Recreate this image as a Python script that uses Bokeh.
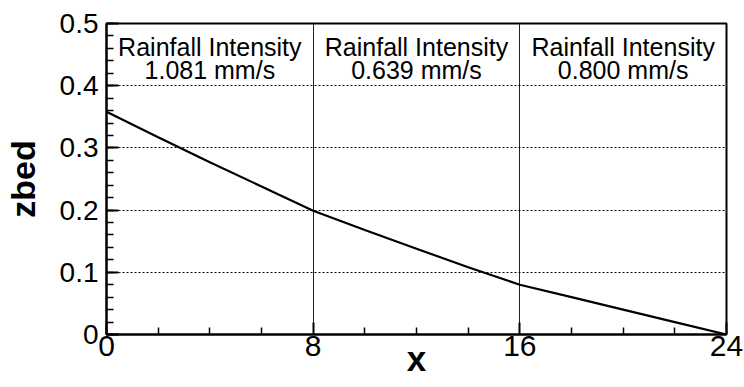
from bokeh.plotting import figure
from bokeh.models import Range1d, FixedTicker
from bokeh.embed import file_html
from bokeh.resources import INLINE
from bokeh.core.properties import value

# ---- data ----
x_pos = [0, 2, 4, 6, 8, 10, 12, 14, 16, 18, 20, 22, 24]
zbed = [0.358, 0.317, 0.277, 0.238, 0.199, 0.168, 0.138, 0.108, 0.080, 0.060, 0.040, 0.020, 0.0]
x_ticks = [0, 8, 16, 24]
y_ticks = [0, 0.1, 0.2, 0.3, 0.4, 0.5]
y_grid = [0.1, 0.2, 0.3, 0.4]
boundaries = [8, 16]
seg_centers = [4, 12, 20]
intensity_title = ["Rainfall Intensity", "Rainfall Intensity", "Rainfall Intensity"]
intensity_value = ["1.081 mm/s", "0.639 mm/s", "0.800 mm/s"]

FONT = "Liberation Sans"

p = figure(width=744, height=387, output_backend="svg", toolbar_location=None,
           x_range=Range1d(0, 24), y_range=Range1d(0, 0.5),
           min_border_left=106, min_border_right=18, min_border_top=23, min_border_bottom=53)
p.background_fill_color = "white"
p.border_fill_color = "white"
p.outline_line_color = "black"
p.outline_line_width = 2

# axes
p.xaxis.ticker = FixedTicker(ticks=x_ticks, minor_ticks=[v for v in range(0, 25, 2) if v not in x_ticks])
p.yaxis.ticker = FixedTicker(ticks=y_ticks, minor_ticks=[round(i * 0.02, 2) for i in range(26)])
p.yaxis.major_label_overrides = {0: "0"}
for ax in (p.xaxis[0], p.yaxis[0]):
    ax.axis_line_width = 2
    ax.axis_line_color = "black"
    ax.major_tick_in = 12
    ax.major_tick_out = 0
    ax.minor_tick_in = 7
    ax.minor_tick_out = 0
    ax.major_tick_line_width = 2
    ax.minor_tick_line_width = 1.5
    ax.major_tick_line_color = "black"
    ax.minor_tick_line_color = "black"
    ax.major_label_text_font = FONT
    ax.major_label_text_color = "black"
    ax.axis_label_text_font = FONT
    ax.axis_label_text_font_style = "bold"
    ax.axis_label_text_color = "black"

p.xaxis.major_label_text_font_size = "30px"
p.xaxis.major_label_standoff = 1
p.xaxis.axis_label = "x"
p.xaxis.axis_label_text_font_size = "35px"
p.xaxis.axis_label_standoff = -20

p.yaxis.major_label_text_font_size = "28px"
p.yaxis.major_label_standoff = 8
p.yaxis.axis_label = "zbed"
p.yaxis.axis_label_text_font_size = "34px"
p.yaxis.axis_label_standoff = 15

# grids
p.xgrid.ticker = FixedTicker(ticks=boundaries)
p.xgrid.grid_line_color = "#222222"
p.xgrid.grid_line_width = 1
p.ygrid.ticker = FixedTicker(ticks=y_grid)
p.ygrid.grid_line_color = "black"
p.ygrid.grid_line_width = 1
p.ygrid.grid_line_dash = "2 2"

# bed profile
p.line(x_pos, zbed, line_color="black", line_width=2.2)

# annotations
p.text(x=seg_centers, y=[0.463] * 3, text=intensity_title, text_align="center",
       text_baseline="alphabetic", text_font=value(FONT), text_font_size=value("25px"),
       text_color="black")
p.text(x=seg_centers, y=[0.426] * 3, text=intensity_value, text_align="center",
       text_baseline="alphabetic", text_font=value(FONT), text_font_size=value("25px"),
       text_color="black")

open("out.html", "w").write(file_html(p, INLINE))
